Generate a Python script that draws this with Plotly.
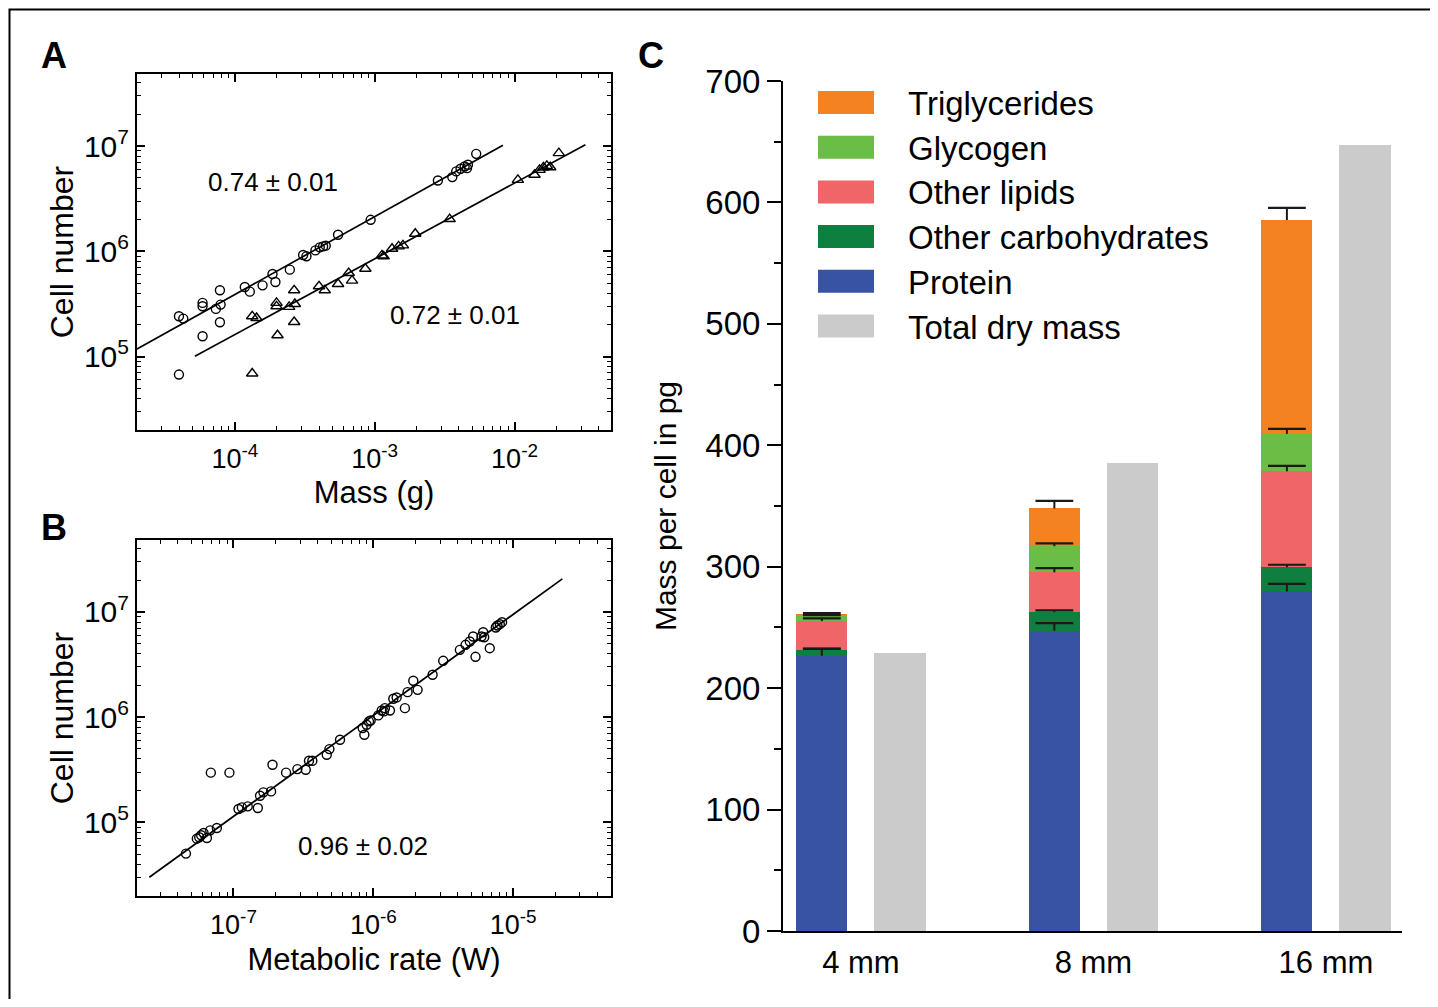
import numpy as np
import plotly.graph_objects as go

FONT = "Liberation Sans, Arial, Helvetica, sans-serif"

# ---------------- Panel A data (log10 values) ----------------
a_circ_logm = [-4.40, -4.369, -4.40, -4.231, -4.231, -4.231, -4.136, -4.102, -4.107, -4.107,
               -3.929, -3.893, -3.802, -3.731, -3.710, -3.607, -3.512, -3.488, -3.424, -3.393,
               -3.369, -3.350, -3.262, -3.029, -2.548, -2.445, -2.417, -2.386, -2.357, -2.340,
               -2.333, -2.274]
a_circ_logn = [5.383, 5.361, 4.829, 5.193, 5.510, 5.478, 5.453, 5.494, 5.630, 5.326,
               5.661, 5.617, 5.677, 5.785, 5.709, 5.826, 5.965, 5.953, 6.009, 6.038,
               6.047, 6.054, 6.158, 6.300, 6.674, 6.706, 6.760, 6.785, 6.807, 6.791,
               6.823, 6.927]
a_tri_logm = [-3.876, -3.876, -3.845, -3.702, -3.702, -3.695, -3.612, -3.576, -3.571, -3.576,
              -3.398, -3.357, -3.262, -3.186, -3.162, -3.067, -2.948, -2.936, -2.876, -2.829,
              -2.798, -2.710, -2.464, -1.976, -1.857, -1.821, -1.793, -1.769, -1.745, -1.683]
a_tri_logn = [4.839, 5.383, 5.367, 5.510, 5.478, 5.203, 5.472, 5.630, 5.500, 5.329,
              5.668, 5.630, 5.690, 5.794, 5.722, 5.835, 5.962, 5.953, 6.025, 6.047,
              6.057, 6.168, 6.307, 6.680, 6.728, 6.775, 6.797, 6.813, 6.800, 6.934]
# fits: slope, intercept (log-log), x extent (log10)
a_circ_fit = dict(slope=0.74, intercept=8.55, xlog=[-4.70, -2.083])
a_tri_fit = dict(slope=0.72, intercept=8.089, xlog=[-4.286, -1.493])
a_labels = ["0.74 ± 0.01", "0.72 ± 0.01"]

# ---------------- Panel B data (log10 values) ----------------
b_logw = [-7.340, -7.262, -7.245, -7.231, -7.214, -7.190, -7.167, -7.119, -7.162, -7.029,
          -6.964, -6.940, -6.898, -6.826, -6.810, -6.786, -6.731, -6.721, -6.624, -6.543,
          -6.483, -6.460, -6.436, -6.333, -6.314, -6.238, -6.076, -6.064, -6.048, -6.031,
          -6.019, -5.964, -5.940, -5.924, -5.917, -5.881, -5.857, -5.833, -5.774, -5.755,
          -5.714, -5.683, -5.576, -5.500, -5.381, -5.340, -5.310, -5.286, -5.269, -5.226,
          -5.214, -5.207, -5.167, -5.124, -5.112, -5.095, -5.079]
b_logn = [4.703, 4.845, 4.858, 4.877, 4.899, 4.851, 4.924, 4.946, 5.472, 5.472,
          5.127, 5.142, 5.152, 5.136, 5.253, 5.285, 5.294, 5.547, 5.472, 5.506,
          5.500, 5.585, 5.585, 5.642, 5.696, 5.785, 5.896, 5.832, 5.927, 5.959,
          5.968, 6.016, 6.063, 6.054, 6.085, 6.063, 6.174, 6.187, 6.085, 6.237,
          6.345, 6.259, 6.402, 6.535, 6.639, 6.687, 6.718, 6.766, 6.573, 6.766,
          6.807, 6.759, 6.655, 6.851, 6.870, 6.883, 6.902]
b_fit = dict(slope=0.96, intercept=11.776, xlog=[-7.602, -4.648])
b_label = "0.96 ± 0.02"

# ---------------- Panel C data (pg per cell) ----------------
c_categories = ["4 mm", "8 mm", "16 mm"]
protein = [226.7, 247.3, 279.6]
other_carbs = [4.4, 15.3, 20.0]
other_lipids = [24.1, 32.8, 79.0]
glycogen = [4.1, 21.5, 30.8]
triglycerides = [1.8, 31.1, 176.1]
total_dry_mass = [229.0, 385.5, 647.5]
err_protein = [5.6, 6.2, 6.2]
err_other_carbs = [1.5, 1.5, 2.0]
err_other_lipids = [2.3, 3.5, 4.4]
err_glycogen = [0.9, 2.3, 4.1]
err_triglycerides = [0.6, 6.2, 10.0]

series = [  # bottom to top
    ("Protein", protein, err_protein, "#3953A4"),
    ("Other carbohydrates", other_carbs, err_other_carbs, "#0E7F3F"),
    ("Other lipids", other_lipids, err_other_lipids, "#F06568"),
    ("Glycogen", glycogen, err_glycogen, "#6ABD45"),
    ("Triglycerides", triglycerides, err_triglycerides, "#F58220"),
]
total_color = "#CBCBCB"
legend_order = ["Triglycerides", "Glycogen", "Other lipids", "Other carbohydrates", "Protein", "Total dry mass"]

# page body has an 8px margin; map reference pixel coords into figure coords
OFF = 8
W, H = 1430, 991
def px(x):
    return (x - OFF) / W
def py(y):
    return 1 - (y - OFF) / H

fig = go.Figure()

# ---- Panel A ----
fig.add_trace(go.Scatter(x=10 ** np.array(a_circ_logm), y=10 ** np.array(a_circ_logn), mode="markers",
                         marker=dict(symbol="circle-open", size=9, color="black", line=dict(width=1.4)),
                         xaxis="x", yaxis="y", showlegend=False))
fig.add_trace(go.Scatter(x=10 ** np.array(a_tri_logm), y=10 ** np.array(a_tri_logn), mode="markers",
                         marker=dict(symbol="triangle-up-open", size=10, color="black", line=dict(width=1.4)),
                         xaxis="x", yaxis="y", showlegend=False))
for f in (a_circ_fit, a_tri_fit):
    xl = np.array(f["xlog"])
    fig.add_trace(go.Scatter(x=10 ** xl, y=10 ** (f["slope"] * xl + f["intercept"]), mode="lines",
                             line=dict(color="black", width=1.7), xaxis="x", yaxis="y", showlegend=False))

# ---- Panel B ----
fig.add_trace(go.Scatter(x=10 ** np.array(b_logw), y=10 ** np.array(b_logn), mode="markers",
                         marker=dict(symbol="circle-open", size=9, color="black", line=dict(width=1.4)),
                         xaxis="x2", yaxis="y2", showlegend=False))
xl = np.array(b_fit["xlog"])
fig.add_trace(go.Scatter(x=10 ** xl, y=10 ** (b_fit["slope"] * xl + b_fit["intercept"]), mode="lines",
                         line=dict(color="black", width=1.7), xaxis="x2", yaxis="y2", showlegend=False))

# ---- Panel C ----
idx = np.arange(len(c_categories))
off = 0.168
bw = 0.22
for name, vals, errs, col in series:
    fig.add_trace(go.Bar(x=idx - off, y=vals, width=bw, marker=dict(color=col, line=dict(width=0)),
                         name=name, xaxis="x3", yaxis="y3", showlegend=False))
fig.add_trace(go.Bar(x=idx + off, y=total_dry_mass, width=bw, marker=dict(color=total_color, line=dict(width=0)),
                     name="Total dry mass", xaxis="x3", yaxis="y3", showlegend=False))
# upward-only error bars: stem via error_y (no caps), cap via a horizontal-line marker
cum = np.zeros(len(c_categories))
for name, vals, errs, col in series:
    cum = cum + np.array(vals)
    tops = cum + np.array(errs)
    fig.add_trace(go.Scatter(x=idx - off, y=tops, mode="markers",
                             marker=dict(symbol="line-ew-open", size=27, color="#1a1a1a",
                                         line=dict(width=2.2, color="#1a1a1a")),
                             error_y=dict(type="data", symmetric=False, array=[0] * len(errs),
                                          arrayminus=errs, color="#1a1a1a", thickness=2, width=0),
                             xaxis="x3", yaxis="y3", showlegend=False, hoverinfo="skip"))

log_common = dict(type="log", showline=True, linecolor="black", linewidth=2, mirror="allticks",
                  ticks="inside", ticklen=8, tickwidth=1.5, tickcolor="black", showgrid=False,
                  zeroline=False, automargin=False,
                  minor=dict(ticks="inside", ticklen=4, tickwidth=1, tickcolor="black", dtick="D1", showgrid=False))

def sup(e):
    return "10<sup>%d</sup>" % e if e >= 0 else "10<sup>-%d</sup>" % (-e)

fig.update_layout(
    width=W, height=H, margin=dict(l=0, r=0, t=0, b=0),
    paper_bgcolor="white", plot_bgcolor="white",
    font=dict(family=FONT, color="black"),
    barmode="stack", showlegend=False,
    xaxis=dict(**log_common, domain=[px(137), px(611)], range=[-4.70, -1.31], anchor="y",
               tickmode="array", tickvals=[1e-4, 1e-3, 1e-2], ticktext=[sup(-4), sup(-3), sup(-2)],
               tickfont=dict(size=27), ticklabelstandoff=4,
               title=dict(text="Mass (g)", font=dict(size=31), standoff=8)),
    yaxis=dict(**log_common, domain=[py(430), py(74)], range=[4.302, 7.686], anchor="x",
               tickmode="array", tickvals=[1e5, 1e6, 1e7], ticktext=[sup(5), sup(6), sup(7)],
               tickfont=dict(size=30),
               title=dict(text="Cell number", font=dict(size=32), standoff=1)),
    xaxis2=dict(**log_common, domain=[px(137), px(611)], range=[-7.69, -4.30], anchor="y2",
                tickmode="array", tickvals=[1e-7, 1e-6, 1e-5], ticktext=[sup(-7), sup(-6), sup(-5)],
                tickfont=dict(size=27), ticklabelstandoff=4,
                title=dict(text="Metabolic rate (W)", font=dict(size=31), standoff=9)),
    yaxis2=dict(**log_common, domain=[py(896), py(540)], range=[4.30, 7.683], anchor="x2",
                tickmode="array", tickvals=[1e5, 1e6, 1e7], ticktext=[sup(5), sup(6), sup(7)],
                tickfont=dict(size=30),
                title=dict(text="Cell number", font=dict(size=32), standoff=1)),
    xaxis3=dict(domain=[px(783), px(1402)], range=[-0.335, 2.327], anchor="y3",
                showline=True, linecolor="black", linewidth=2, ticks="", showgrid=False, zeroline=False,
                tickmode="array", tickvals=list(idx), ticktext=c_categories, tickfont=dict(size=31),
                ticklabelstandoff=3, automargin=False),
    yaxis3=dict(domain=[py(931), py(81)], range=[0, 700], anchor="x3",
                showline=True, linecolor="black", linewidth=2, ticks="outside", ticklen=14, tickwidth=2,
                tickcolor="black", dtick=100, showgrid=False, zeroline=False, tickfont=dict(size=33),
                minor=dict(ticks="outside", ticklen=7, tickwidth=2, tickcolor="black", dtick=50, showgrid=False),
                title=dict(text="Mass per cell in pg", font=dict(size=30), standoff=20), automargin=False),
)

anns = []
# panel letters
for t, x, y in (("A", 54, 56), ("B", 54, 527), ("C", 651, 56)):
    anns.append(dict(text="<b>%s</b>" % t, x=px(x), y=py(y), xref="paper", yref="paper",
                     showarrow=False, font=dict(size=36, family=FONT), xanchor="center", yanchor="middle"))
# slope labels
anns.append(dict(text=a_labels[0], x=-3.729, y=6.664, xref="x", yref="y", showarrow=False, font=dict(size=26)))
anns.append(dict(text=a_labels[1], x=-2.429, y=5.397, xref="x", yref="y", showarrow=False, font=dict(size=26)))
anns.append(dict(text=b_label, x=-6.071, y=4.777, xref="x2", yref="y2", showarrow=False, font=dict(size=26)))

# manual legend for panel C
colors = {name: col for name, _, _, col in series}
colors["Total dry mass"] = total_color
shapes = []
row0, dy = 102.5, 44.7
for i, name in enumerate(legend_order):
    yc = row0 + i * dy
    shapes.append(dict(type="rect", xref="paper", yref="paper", x0=px(818), x1=px(874),
                       y0=py(yc + 11.5), y1=py(yc - 11.5), fillcolor=colors[name], line=dict(width=0)))
    anns.append(dict(text=name, x=px(906), y=py(yc + 1), xref="paper", yref="paper", showarrow=False,
                     xanchor="left", yanchor="middle", font=dict(size=33)))
# outer frame
shapes.append(dict(type="rect", xref="paper", yref="paper", x0=px(9.5), x1=px(1434), y0=-0.02, y1=py(9.5),
                   line=dict(color="black", width=2), fillcolor="rgba(0,0,0,0)"))

fig.update_layout(annotations=anns, shapes=shapes)
fig.write_html("out.html")
